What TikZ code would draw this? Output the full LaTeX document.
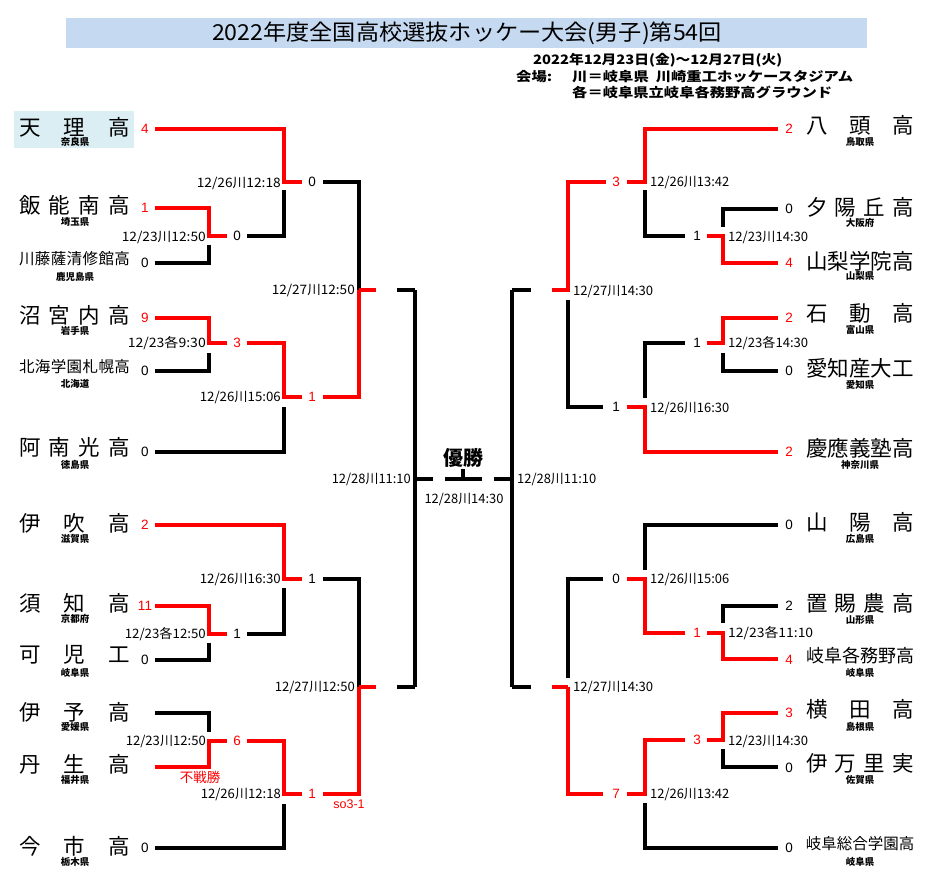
\documentclass[tikz,border=0pt]{standalone}
\usepackage{fontspec}
\usepackage{graphicx}
\setmainfont{Liberation Sans}
\newfontfamily\jpf{Noto Sans CJK JP}
\newfontfamily\numf{Liberation Sans}
\newcommand\myfs[1]{\fontsize{#1pt}{#1pt}\selectfont}
\newcommand\spL[1]{\makebox[111pt]{#1}}
\newcommand\spR[1]{\makebox[108pt]{#1}}
\newcommand\dw[2]{\resizebox{#1pt}{\height}{#2}}
\definecolor{titlebg}{RGB}{197,217,241}
\definecolor{tenribg}{RGB}{218,238,243}
\tikzset{
  ln/.style={line width=3.2pt, line cap=butt, line join=miter},
  rl/.style={ln, draw=red},
  kl/.style={ln, draw=black},
  sc/.style={inner sep=0pt, font=\numf\myfs{13.5}},
  scr/.style={sc, text=red},
  dtl/.style={inner sep=0pt, anchor=east, font=\jpf\myfs{13}},
  dtr/.style={inner sep=0pt, anchor=west, font=\jpf\myfs{13}},
  nm/.style={inner sep=0pt, font=\jpf\myfs{21.5}},
  nmm/.style={inner sep=0pt, font=\jpf\myfs{18}},
  nms/.style={inner sep=0pt, font=\jpf\myfs{15.5}},
  pf/.style={inner sep=0pt, font=\jpf\bfseries\myfs{9.5}},
  hd/.style={inner sep=0pt, anchor=west, font=\jpf\bfseries\myfs{13}},
}
\begin{document}
\begin{tikzpicture}[x=1pt,y=-1pt]
\useasboundingbox (0,0) rectangle (936,887);
% header
\fill[titlebg] (66,18) rectangle (867,48);
\node[inner sep=0pt, font=\jpf\myfs{22}] (title) at (467,33) {\dw{510}{2022年度全国高校選抜ホッケー大会(男子)第54回}};
\node[hd] (hdate) at (533,60) {\dw{249}{2022年12月23日(金)～12月27日(火)}};
\node[hd] (hvenue) at (516,77) {\dw{36}{会場:}};
\node[hd] (hv1) at (572,77) {\dw{281}{川＝岐阜県\ \ 川崎重工ホッケースタジアム}};
\node[hd] (hv2) at (572,92) {\dw{260}{各＝岐阜県立岐阜各務野高グラウンド}};
% Tenri highlight
\fill[tenribg] (14,111) rectangle (134,148);

% ===== left team names =====
\node[nm] (tL1) at (74.5,127) {\spL{天\hfill 理\hfill 高}};
\node[nm] (tL2) at (74.5,205) {\spL{飯\hfill 能\hfill 南\hfill 高}};
\node[nms] (tL3) at (74.5,259) {\spL{川\hfill 藤\hfill 薩\hfill 清\hfill 修\hfill 館\hfill 高}};
\node[nm] (tL4) at (74.5,315) {\spL{沼\hfill 宮\hfill 内\hfill 高}};
\node[nms] (tL5) at (74.5,367) {\spL{北\hfill 海\hfill 学\hfill 園\hfill 札\hfill 幌\hfill 高}};
\node[nm] (tL6) at (74.5,447) {\spL{阿\hfill 南\hfill 光\hfill 高}};
\node[nm] (tL7) at (74.5,523) {\spL{伊\hfill 吹\hfill 高}};
\node[nm] (tL8) at (74.5,603) {\spL{須\hfill 知\hfill 高}};
\node[nm] (tL9) at (74.5,655) {\spL{可\hfill 児\hfill 工}};
\node[nm] (tL10) at (74.5,712) {\spL{伊\hfill 予\hfill 高}};
\node[nm] (tL11) at (74.5,764) {\spL{丹\hfill 生\hfill 高}};
\node[nm] (tL12) at (74.5,846) {\spL{今\hfill 市\hfill 高}};
\node[pf] (pL1) at (75,142) {奈良県};
\node[pf] (pL2) at (75,222) {埼玉県};
\node[pf] (pL3) at (75,277) {鹿児島県};
\node[pf] (pL4) at (75,331) {岩手県};
\node[pf] (pL5) at (75,384) {北海道};
\node[pf] (pL6) at (75,465) {徳島県};
\node[pf] (pL7) at (75,539) {滋賀県};
\node[pf] (pL8) at (75,619) {京都府};
\node[pf] (pL9) at (75,673) {岐阜県};
\node[pf] (pL10) at (75,727) {愛媛県};
\node[pf] (pL11) at (75,780) {福井県};
\node[pf] (pL12) at (75,862) {栃木県};

% ===== right team names =====
\node[nm] (tR1) at (860,125) {\spR{八\hfill 頭\hfill 高}};
\node[nm] (tR2) at (860,207) {\spR{夕\hfill 陽\hfill 丘\hfill 高}};
\node[nm] (tR3) at (860,261) {\spR{山\hfill 梨\hfill 学\hfill 院\hfill 高}};
\node[nm] (tR4) at (860,313) {\spR{石\hfill 動\hfill 高}};
\node[nm] (tR5) at (860,368) {\spR{愛\hfill 知\hfill 産\hfill 大\hfill 工}};
\node[nm] (tR6) at (860,448) {\spR{慶\hfill 應\hfill 義\hfill 塾\hfill 高}};
\node[nm] (tR7) at (860,522) {\spR{山\hfill 陽\hfill 高}};
\node[nm] (tR8) at (860,603) {\spR{置\hfill 賜\hfill 農\hfill 高}};
\node[nmm] (tR9) at (860,656) {\spR{岐\hfill 阜\hfill 各\hfill 務\hfill 野\hfill 高}};
\node[nm] (tR10) at (860,709) {\spR{横\hfill 田\hfill 高}};
\node[nm] (tR11) at (860,763) {\spR{伊\hfill 万\hfill 里\hfill 実}};
\node[nms] (tR12) at (860,844) {\spR{岐\hfill 阜\hfill 総\hfill 合\hfill 学\hfill 園\hfill 高}};
\node[pf] (pR1) at (860,142) {鳥取県};
\node[pf] (pR2) at (860,223) {大阪府};
\node[pf] (pR3) at (860,276) {山梨県};
\node[pf] (pR4) at (860,330) {富山県};
\node[pf] (pR5) at (860,385) {愛知県};
\node[pf] (pR6) at (860,465) {神奈川県};
\node[pf] (pR7) at (860,539) {広島県};
\node[pf] (pR8) at (860,620) {山形県};
\node[pf] (pR9) at (860,673) {岐阜県};
\node[pf] (pR10) at (860,727) {島根県};
\node[pf] (pR11) at (860,780) {佐賀県};
\node[pf] (pR12) at (860,862) {岐阜県};

% ===== left bracket: top half =====
\draw[rl] (155,129) -- (284,129) -- (284,182) -- (302,182);
\node[scr] (a1) at (145,129) {4};
\node[sc] (a2) at (312,182) {0};
\draw[kl] (323,182) -- (359,182) -- (359,290);
\node[dtl] (da1) at (281,183) {\dw{84}{12/26川12:18}};
\draw[kl] (284,190) -- (284,236) -- (247,236);
\node[sc] (a3) at (237,236) {0};
\draw[rl] (227,236) -- (209,236) -- (209,208) -- (155,208);
\node[scr] (a4) at (145,208) {1};
\node[dtl] (da2) at (206,237) {\dw{84}{12/23川12:50}};
\draw[kl] (209,245) -- (209,263) -- (155,263);
\node[sc] (a5) at (145,263) {0};

\draw[rl] (359,290) -- (376,290);
\draw[kl] (397,290) -- (415,290);
\node[dtl] (da3) at (355,290) {\dw{83}{12/27川12:50}};
\draw[rl] (359,290) -- (359,397) -- (323,397);
\node[scr] (a6) at (312,397) {1};
\draw[rl] (302,397) -- (284,397) -- (284,343) -- (247,343);
\node[scr] (a7) at (237,343) {3};
\node[dtl] (da5) at (281,397) {\dw{81}{12/26川15:06}};
\draw[kl] (284,407) -- (284,452) -- (155,452);
\node[sc] (a8) at (145,452) {0};
\draw[rl] (227,343) -- (209,343) -- (209,318) -- (155,318);
\node[scr] (a9) at (145,318) {9};
\node[dtl] (da4) at (206,343) {\dw{78}{12/23各9:30}};
\draw[kl] (209,353) -- (209,371) -- (155,371);
\node[sc] (a10) at (145,371) {0};

% ===== left bracket: bottom half =====
\draw[rl] (155,525) -- (284,525) -- (284,579) -- (302,579);
\node[scr] (b1) at (145,525) {2};
\node[sc] (b2) at (312,579) {1};
\draw[kl] (323,579) -- (359,579) -- (359,687);
\node[dtl] (db1) at (281,579) {\dw{81}{12/26川16:30}};
\draw[kl] (284,588) -- (284,634) -- (247,634);
\node[sc] (b3) at (237,634) {1};
\draw[rl] (227,634) -- (209,634) -- (209,606) -- (155,606);
\node[scr] (b4) at (145,606) {11};
\node[dtl] (db2) at (206,634) {\dw{81}{12/23各12:50}};
\draw[kl] (209,643) -- (209,660) -- (155,660);
\node[sc] (b5) at (145,660) {0};

\draw[rl] (359,687) -- (376,687);
\draw[kl] (397,687) -- (415,687);
\node[dtl] (db3) at (355,687) {\dw{80}{12/27川12:50}};
\draw[rl] (359,687) -- (359,794) -- (323,794);
\node[scr] (b6) at (312,794) {1};
\node[inner sep=0pt, text=red, font=\numf\myfs{12.5}] (so) at (349,804) {so3-1};
\draw[rl] (302,794) -- (284,794) -- (284,741) -- (247,741);
\node[scr] (b7) at (237,741) {6};
\node[dtl] (db5) at (281,794) {\dw{80}{12/26川12:18}};
\draw[kl] (284,804) -- (284,848) -- (155,848);
\node[sc] (b8) at (145,848) {0};
\draw[rl] (227,741) -- (209,741) -- (209,767) -- (155,767);
\node[inner sep=0pt, text=red, font=\jpf\myfs{13.5}] (fusen) at (200,777) {不戦勝};
\draw[kl] (155,713) -- (209,713) -- (209,732);
\node[dtl] (db4) at (206,741) {\dw{80}{12/23川12:50}};

% ===== centre / final =====
\draw[kl] (415,290) -- (415,687);
\draw[kl] (512,290) -- (512,687);
\draw[kl] (415,479) -- (433,479);
\draw[kl] (445,479) -- (482,479);
\draw[kl] (494,479) -- (512,479);
\draw[kl] (463,469) -- (463,479);
\node[inner sep=0pt, font=\jpf\bfseries\myfs{20}] (yusho) at (463,458) {優勝};
\node[inner sep=0pt, font=\jpf\myfs{13}] (dfin) at (464,499) {\dw{79}{12/28川14:30}};
\node[dtl] (dsL) at (411,479) {\dw{79}{12/28川11:10}};
\node[dtr] (dsR) at (517,479) {\dw{79}{12/28川11:10}};

% ===== right bracket: top half =====
\draw[rl] (778,129) -- (645,129) -- (645,182) -- (627,182);
\node[scr] (c1) at (789,129) {2};
\node[scr] (c2) at (616,182) {3};
\draw[rl] (606,182) -- (568,182) -- (568,290) -- (552,290);
\node[dtr] (dc1) at (650,182) {\dw{79}{12/26川13:42}};
\draw[kl] (645,190) -- (645,236) -- (685,236);
\node[sc] (c3) at (697,236) {1};
\draw[rl] (707,236) -- (723,236) -- (723,263) -- (778,263);
\node[scr] (c4) at (789,263) {4};
\draw[kl] (723,227) -- (723,209) -- (778,209);
\node[sc] (c5) at (789,209) {0};
\node[dtr] (dc2) at (728,237) {\dw{80}{12/23川14:30}};

\draw[kl] (512,290) -- (531,290);
\node[dtr] (dc3) at (573,291) {\dw{80}{12/27川14:30}};
\draw[kl] (568,300) -- (568,407) -- (603,407);
\node[sc] (c6) at (616,407) {1};
\draw[rl] (627,407) -- (645,407) -- (645,452) -- (778,452);
\node[scr] (c7) at (789,452) {2};
\draw[kl] (645,398) -- (645,343) -- (685,343);
\node[sc] (c8) at (697,343) {1};
\draw[rl] (707,343) -- (723,343) -- (723,318) -- (778,318);
\node[scr] (c9) at (789,318) {2};
\node[dtr] (dc4) at (650,408) {\dw{79}{12/26川16:30}};
\node[dtr] (dc5) at (728,343) {\dw{80}{12/23各14:30}};
\draw[kl] (723,353) -- (723,371) -- (778,371);
\node[sc] (c10) at (789,371) {0};

% ===== right bracket: bottom half =====
\draw[kl] (778,525) -- (645,525) -- (645,570);
\node[sc] (e1) at (789,525) {0};
\node[sc] (e2) at (616,579) {0};
\draw[kl] (603,579) -- (568,579) -- (568,678);
\draw[rl] (627,579) -- (645,579) -- (645,633) -- (685,633);
\node[scr] (e3) at (697,633) {1};
\draw[rl] (707,633) -- (723,633) -- (723,659) -- (778,659);
\node[scr] (e4) at (789,660) {4};
\draw[kl] (723,623) -- (723,606) -- (778,606);
\node[sc] (e5) at (789,606) {2};
\node[dtr] (de1) at (650,579) {\dw{79}{12/26川15:06}};
\node[dtr] (de2) at (728,633) {\dw{85}{12/23各11:10}};

\draw[kl] (512,687) -- (531,687);
\draw[rl] (552,687) -- (568,687);
\node[dtr] (de3) at (573,687) {\dw{80}{12/27川14:30}};
\draw[rl] (568,687) -- (568,794) -- (603,794);
\node[scr] (e6) at (616,794) {7};
\draw[rl] (627,794) -- (645,794) -- (645,740) -- (685,740);
\node[scr] (e7) at (697,740) {3};
\draw[rl] (707,740) -- (723,740) -- (723,713) -- (778,713);
\node[scr] (e8) at (789,713) {3};
\draw[kl] (723,749) -- (723,767) -- (778,767);
\node[sc] (e9) at (789,768) {0};
\node[dtr] (de4) at (728,741) {\dw{80}{12/23川14:30}};
\node[dtr] (de5) at (650,794) {\dw{79}{12/26川13:42}};
\draw[kl] (645,803) -- (645,848) -- (778,848);
\node[sc] (e10) at (789,848) {0};
\end{tikzpicture}
\end{document}
